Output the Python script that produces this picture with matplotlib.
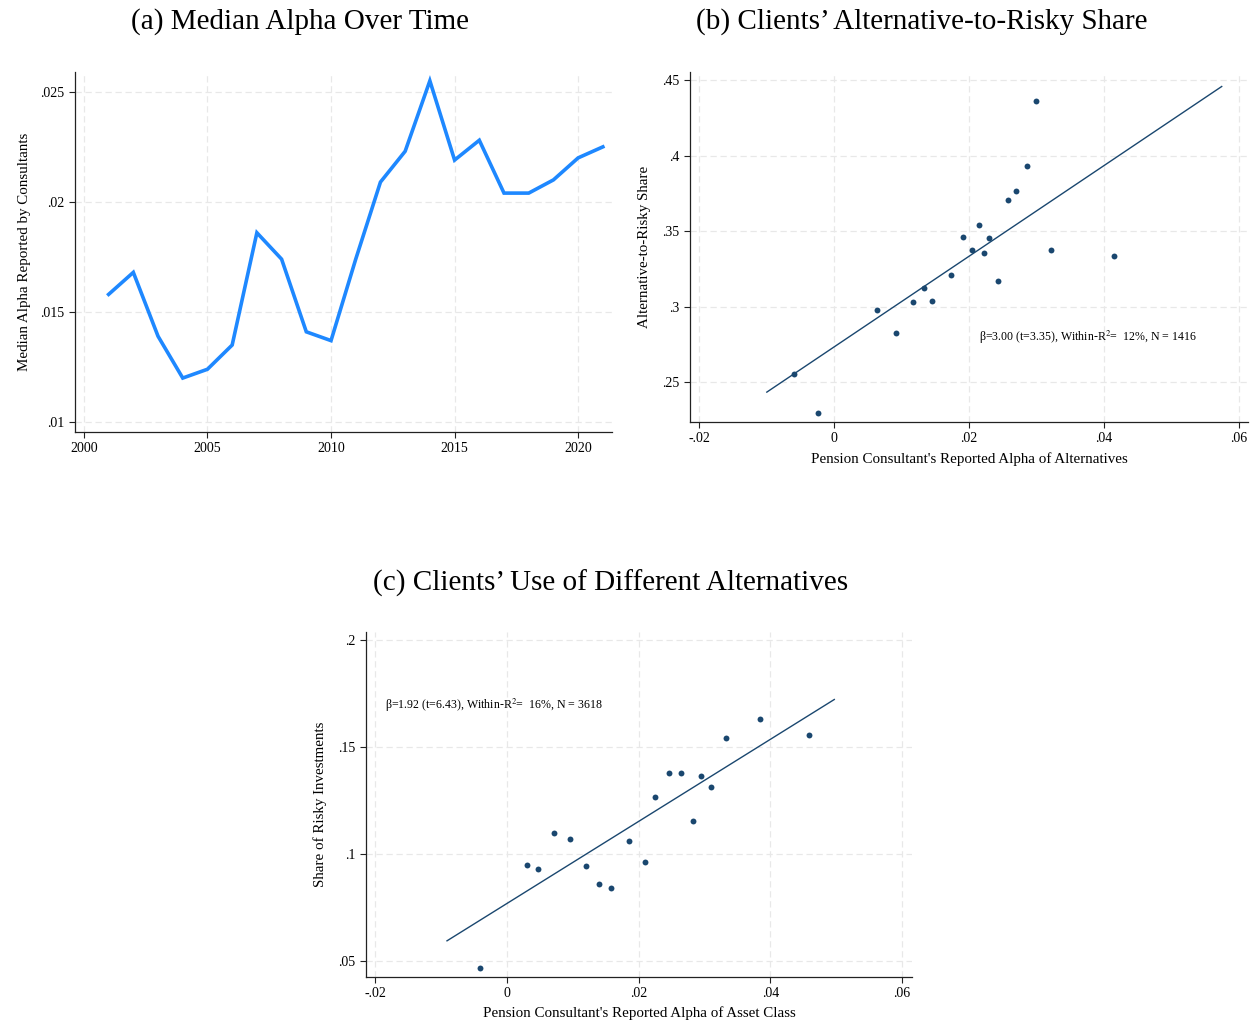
import matplotlib
matplotlib.use("Agg")
import matplotlib.pyplot as plt
import numpy as np

plt.rcParams['font.family'] = ['Liberation Serif', 'DejaVu Serif']
plt.rcParams['mathtext.fontset'] = 'stix'

# ---------------- data ----------------
years = list(range(2001, 2022))
median_alpha = [0.0158, 0.0168, 0.0139, 0.0120, 0.0124, 0.0135, 0.0186, 0.0174,
                0.0141, 0.0137, 0.0174, 0.0209, 0.0223, 0.0255, 0.0219, 0.0228,
                0.0204, 0.0204, 0.0210, 0.0220, 0.0225]

b_alpha = [-0.0060, -0.00235, 0.00629, 0.00924, 0.01176, 0.01329, 0.01453, 0.01735,
           0.01918, 0.02047, 0.02147, 0.02218, 0.02294, 0.02435, 0.02582, 0.02694,
           0.02865, 0.02994, 0.03218, 0.04147]
b_share = [0.2551, 0.2295, 0.2976, 0.2826, 0.3029, 0.3121, 0.3035, 0.3209,
           0.3465, 0.3377, 0.3542, 0.3357, 0.3452, 0.3168, 0.3705, 0.3769,
           0.3930, 0.4361, 0.3377, 0.3335]
b_fit = [0.2734, 3.00]          # intercept, slope
b_fit_range = [-0.0100, 0.0575]
b_note = r"β=3.00 (t=3.35), Within-R$^{2}$=  12%, N = 1416"

c_alpha = [-0.00408, 0.00312, 0.00468, 0.0072, 0.0096, 0.0120, 0.01405, 0.01585,
           0.01849, 0.02101, 0.02251, 0.02467, 0.02647, 0.02947, 0.02827, 0.03103,
           0.03325, 0.03848, 0.04592]
c_share = [0.0467, 0.0950, 0.0931, 0.1097, 0.1072, 0.0945, 0.0859, 0.0843,
           0.1061, 0.0963, 0.1267, 0.1379, 0.1379, 0.1363, 0.1156, 0.1312,
           0.1544, 0.1634, 0.1559]
c_fit = [0.0769, 1.92]
c_fit_range = [-0.0091, 0.0497]
c_note = r"β=1.92 (t=6.43), Within-R$^{2}$=  16%, N = 3618"

a_yticks = [0.01, 0.015, 0.02, 0.025]
a_xticks = [2000, 2005, 2010, 2015, 2020]
bc_xticks = [-0.02, 0, 0.02, 0.04, 0.06]
b_yticks = [0.25, 0.3, 0.35, 0.4, 0.45]
c_yticks = [0.05, 0.1, 0.15, 0.2]

# ---------------- helpers ----------------
W, H = 1258, 1021
fig = plt.figure(figsize=(W / 100, H / 100), dpi=100)

def add_ax(l, r, t, b):
    return fig.add_axes([l / W, 1 - b / H, (r - l) / W, (b - t) / H])

def strip0(v):
    s = f"{v:g}"
    s = s.replace("0.", ".")
    return s

NAVY = '#1a476f'
GRID = '#e8e8e8'

def style(ax):
    for s in ['top', 'right']:
        ax.spines[s].set_visible(False)
    for s in ['left', 'bottom']:
        ax.spines[s].set_linewidth(0.9)
        ax.spines[s].set_color('#222222')
    ax.tick_params(direction='out', length=4, width=0.8, labelsize=10, color='#222222')
    ax.grid(True, color=GRID, linestyle=(0, (5, 3)), linewidth=0.9)
    ax.set_axisbelow(True)

LBL = 10.8
TITLE = 21

# ---------------- panel (a) ----------------
axa = add_ax(75, 612, 72, 432)
style(axa)
axa.plot(years, median_alpha, color='#1e88ff', linewidth=2.6, solid_joinstyle='miter')
axa.set_xlim(1999.64, 2021.37)
axa.set_ylim(0.00955, 0.0259)
axa.set_xticks(a_xticks)
axa.set_xticklabels([str(v) for v in a_xticks])
axa.set_yticks(a_yticks)
axa.set_yticklabels([strip0(v) for v in a_yticks])
axa.set_ylabel("Median Alpha Reported by Consultants", fontsize=LBL, labelpad=7)
fig.text(300 / W, 1 - 22 / H, "(a) Median Alpha Over Time", ha='center', va='center', fontsize=TITLE)

# ---------------- panel (b) ----------------
axb = add_ax(690, 1248, 72, 422)
style(axb)
xb = np.array(b_fit_range)
axb.plot(xb, b_fit[0] + b_fit[1] * xb, color=NAVY, linewidth=1.0)
axb.scatter(b_alpha, b_share, s=18, color=NAVY, zorder=3, linewidths=0)
axb.set_xlim(-0.0214, 0.0614)
axb.set_ylim(0.2236, 0.4555)
axb.set_xticks(bc_xticks)
axb.set_xticklabels([strip0(v) for v in bc_xticks])
axb.set_yticks(b_yticks)
axb.set_yticklabels([strip0(v) for v in b_yticks])
axb.set_xlabel("Pension Consultant's Reported Alpha of Alternatives", fontsize=LBL, labelpad=5)
axb.set_ylabel("Alternative-to-Risky Share", fontsize=LBL, labelpad=8)
axb.text(0.0215, 0.2795, b_note, fontsize=8.6, va='center', ha='left')
fig.text(922 / W, 1 - 22 / H, "(b) Clients\u2019 Alternative-to-Risky Share", ha='center', va='center', fontsize=TITLE)

# ---------------- panel (c) ----------------
axc = add_ax(366, 912, 632, 977)
style(axc)
xc = np.array(c_fit_range)
axc.plot(xc, c_fit[0] + c_fit[1] * xc, color=NAVY, linewidth=1.0)
axc.scatter(c_alpha, c_share, s=18, color=NAVY, zorder=3, linewidths=0)
axc.set_xlim(-0.0214, 0.0615)
axc.set_ylim(0.0425, 0.2039)
axc.set_xticks(bc_xticks)
axc.set_xticklabels([strip0(v) for v in bc_xticks])
axc.set_yticks(c_yticks)
axc.set_yticklabels([strip0(v) for v in c_yticks])
axc.set_xlabel("Pension Consultant's Reported Alpha of Asset Class", fontsize=LBL, labelpad=4)
axc.set_ylabel("Share of Risky Investments", fontsize=LBL, labelpad=8)
axc.text(-0.0185, 0.1695, c_note, fontsize=8.6, va='center', ha='left')
fig.text(611 / W, 1 - 583 / H, "(c) Clients\u2019 Use of Different Alternatives", ha='center', va='center', fontsize=TITLE)

fig.savefig("out.png", dpi=100, facecolor='white')
